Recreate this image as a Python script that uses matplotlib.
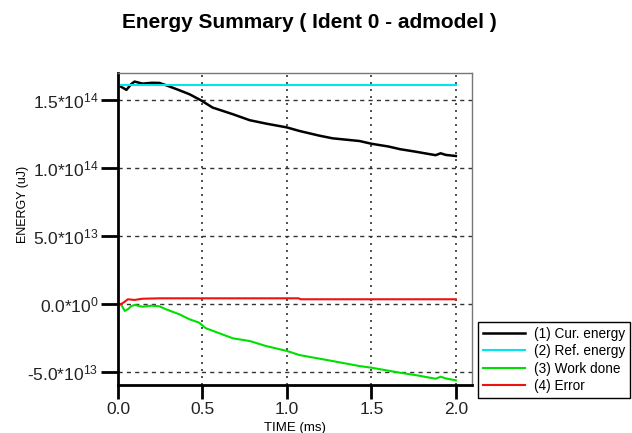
import matplotlib
matplotlib.use('Agg')
import matplotlib.pyplot as plt

plt.rcParams['font.family'] = ['Liberation Sans', 'DejaVu Sans']
plt.rcParams['mathtext.fontset'] = 'custom'
plt.rcParams['mathtext.rm'] = 'Liberation Sans'
plt.rcParams['mathtext.default'] = 'rm'

# values (time in ms, energy in uJ)
cur_t = [0, 0.01, 0.05, 0.078, 0.098, 0.145, 0.2, 0.245, 0.285, 0.364, 0.423, 0.49,
         0.56, 0.68, 0.78, 0.877, 1.0, 1.074, 1.19, 1.27, 1.43, 1.5, 1.6, 1.67,
         1.76, 1.88, 1.91, 1.94, 2.0]
cur_e = [1.615e14, 1.605e14, 1.576e14, 1.618e14, 1.637e14, 1.622e14, 1.628e14, 1.627e14,
         1.61e14, 1.573e14, 1.544e14, 1.50e14, 1.446e14, 1.397e14, 1.353e14, 1.328e14,
         1.30e14, 1.274e14, 1.24e14, 1.22e14, 1.20e14, 1.18e14, 1.16e14, 1.14e14,
         1.122e14, 1.096e14, 1.11e14, 1.098e14, 1.09e14]

ref_t = [0, 2.0]
ref_e = [1.615e14, 1.615e14]

work_t = [0, 0.02, 0.04, 0.06, 0.078, 0.1, 0.145, 0.2, 0.245, 0.285, 0.364, 0.423,
          0.48, 0.52, 0.68, 0.78, 0.877, 1.0, 1.074, 1.27, 1.43, 1.5, 1.67, 1.76,
          1.88, 1.91, 1.94, 2.0]
work_e = [0, -0.5e12, -4.9e12, -3.5e12, -1.3e12, -0.5e12, -1.8e12, -1.0e12, -1.5e12,
          -3.7e12, -7.4e12, -1.1e13, -1.35e13, -1.76e13, -2.5e13, -2.7e13, -3.07e13,
          -3.43e13, -3.73e13, -4.17e13, -4.54e13, -4.66e13, -5.03e13, -5.2e13,
          -5.47e13, -5.32e13, -5.45e13, -5.59e13]

err_t = [0, 0.02, 0.04, 0.058, 0.098, 0.145, 0.25, 1.07, 1.08, 2.0]
err_e = [0, 0.3e12, 1.9e12, 3.7e12, 3.2e12, 4.1e12, 4.4e12, 4.4e12, 3.7e12, 3.7e12]

labels = ['(1) Cur. energy', '(2) Ref. energy', '(3) Work done', '(4) Error']
colors = ['black', '#00e5ee', '#00e000', '#ee1111']

xticks = [0.0, 0.5, 1.0, 1.5, 2.0]
yticks = [-5e13, 0, 5e13, 1e14, 1.5e14]
ytick_labels = [r'-5.0*10$^{13}$', r'0.0*10$^{0}$', r'5.0*10$^{13}$',
                r'1.0*10$^{14}$', r'1.5*10$^{14}$']

fig = plt.figure(figsize=(6.32, 4.33), dpi=100)
ax = fig.add_axes([0.1867, 0.1109, 0.56, 0.7205])

ax.plot(cur_t, cur_e, color=colors[0], lw=1.8, label=labels[0])
ax.plot(ref_t, ref_e, color=colors[1], lw=1.5, label=labels[1])
ax.plot(work_t, work_e, color=colors[2], lw=1.5, label=labels[2])
ax.plot(err_t, err_e, color=colors[3], lw=1.5, label=labels[3])

ax.set_xlim(0, 2.095)
ax.set_ylim(-5.93e13, 1.70e14)

ax.set_xticks(xticks)
ax.set_xticklabels(['%.1f' % v for v in xticks])
ax.set_yticks(yticks)
ax.set_yticklabels(ytick_labels)
ax.tick_params(axis='both', labelsize=12.5, width=2, colors='black', labelcolor='#222222')
ax.tick_params(axis='y', length=12, pad=2)
ax.tick_params(axis='x', length=10, pad=2)

# dotted verticals, dashed horizontals
ax.xaxis.grid(True, linestyle=(0, (1.2, 3)), color='#333333', lw=1.2)
ax.yaxis.grid(True, linestyle=(0, (3, 3)), color='#333333', lw=1.0)
ax.set_axisbelow(True)

for s in ['left', 'bottom']:
    ax.spines[s].set_linewidth(2)
    ax.spines[s].set_color('black')
for s in ['top', 'right']:
    ax.spines[s].set_linewidth(1)
    ax.spines[s].set_color('#777777')

fig.text(0.467, 0.012, 'TIME (ms)', fontsize=9.5, ha='center', va='center')
fig.text(0.037, 0.527, 'ENERGY (uJ)', rotation=90, fontsize=9,
         ha='center', va='center')

fig.text(0.49, 0.949, 'Energy Summary ( Ident 0 - admodel )', fontsize=15,
         fontweight='bold', ha='center', va='center')

leg = ax.legend(loc='upper left', bbox_to_anchor=(0.756, 0.2564),
                bbox_transform=fig.transFigure, borderaxespad=0,
                fancybox=False, edgecolor='black', fontsize=9.8,
                handlelength=3.1, handletextpad=0.7, labelspacing=0.25,
                borderpad=0.35, framealpha=1)
leg.get_frame().set_linewidth(1.0)

fig.savefig('out.png', dpi=100)
